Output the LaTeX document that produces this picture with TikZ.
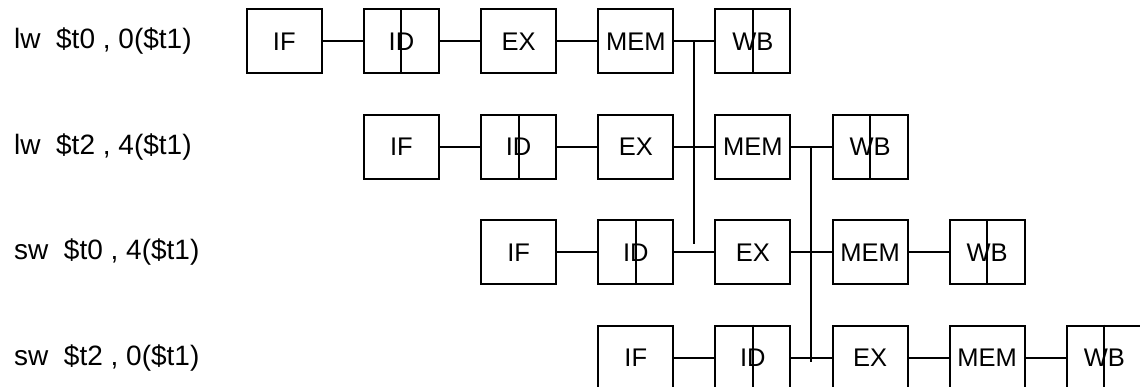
\documentclass[tikz,border=0pt]{standalone}
\usepackage{fontspec}
\setmainfont{Liberation Sans}
\usetikzlibrary{calc}
\begin{document}
\begin{tikzpicture}[x=1pt,y=-1pt,
  stagebox/.style={draw,line width=2pt,minimum width=75pt,minimum height=64pt,inner sep=0pt,
    font=\fontsize{25.5}{30}\selectfont},
  instr/.style={anchor=west,inner sep=0pt,font=\fontsize{28}{32}\selectfont},
  wire/.style={line width=2pt}]
\useasboundingbox (0,0) rectangle (1140,387);
\def\cx#1{284.3+117.15*#1}
\def\ry#1{41.5+105.4*#1}
% instruction labels
\node[instr] (l1) at (14,{\ry{0}}) {lw\ \ \$t0 , 0(\$t1)};
\node[instr] (l2) at (14,{\ry{1}}) {lw\ \ \$t2 , 4(\$t1)};
\node[instr] (l3) at (14,{\ry{2}}) {sw\ \ \$t0 , 4(\$t1)};
\node[instr] (l4) at (14,{\ry{3}}) {sw\ \ \$t2 , 0(\$t1)};
% pipeline rows
\foreach \r/\s in {0/1,1/2,2/3,3/4}{
  \node[stagebox] (if\s)  at ({\cx{\r}},{\ry{\r}}) {IF};
  \node[stagebox] (id\s)  at ({\cx{(\r+1)}},{\ry{\r}}) {ID};
  \node[stagebox] (ex\s)  at ({\cx{(\r+2)}},{\ry{\r}}) {EX};
  \node[stagebox] (mem\s) at ({\cx{(\r+3)}},{\ry{\r}}) {MEM};
  \node[stagebox] (wb\s)  at ({\cx{(\r+4)}},{\ry{\r}}) {WB};
  \draw[wire] (id\s.north) -- (id\s.south);
  \draw[wire] (wb\s.north) -- (wb\s.south);
  \draw[wire] (if\s) -- (id\s);
  \draw[wire] (id\s) -- (ex\s);
  \draw[wire] (ex\s) -- (mem\s);
  \draw[wire] (mem\s) -- (wb\s);
}
% forwarding lines
\coordinate (v1a) at ($(mem1.east)!0.5!(wb1.west)$);
\coordinate (v1b) at ($($(id3.east)!0.5!(ex3.west)$)+(0,-8)$);
\draw[wire] (v1a) -- (v1b);
\coordinate (v2a) at ($(mem2.east)!0.5!(wb2.west)$);
\coordinate (v2b) at ($($(id4.east)!0.5!(ex4.west)$)+(0,4)$);
\draw[wire] (v2a) -- (v2b);
\end{tikzpicture}
\end{document}
